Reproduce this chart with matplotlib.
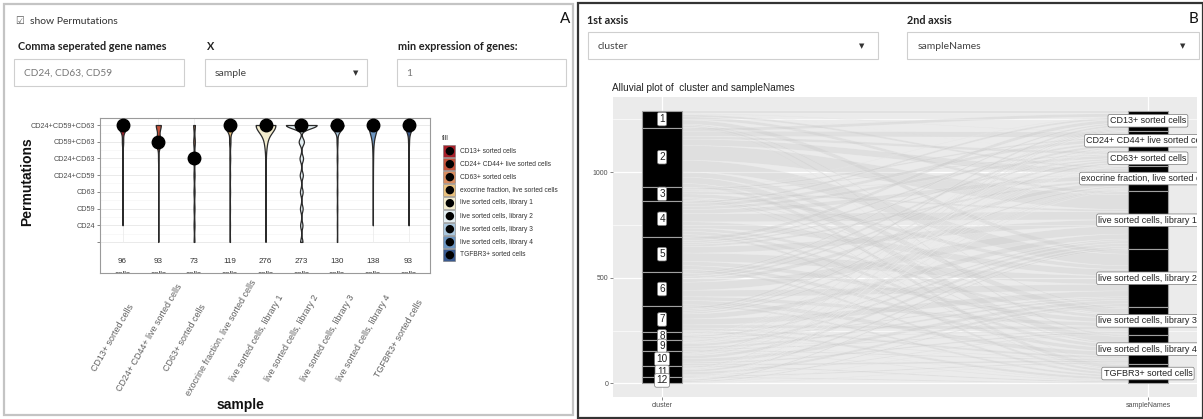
import numpy as np
import matplotlib
matplotlib.use('Agg')
import matplotlib.pyplot as plt
from matplotlib.patches import Rectangle

W, H = 1203, 419

# ---------- panel A data ----------
samples = ['CD13+ sorted cells', 'CD24+ CD44+ live sorted cells', 'CD63+ sorted cells',
           'exocrine fraction, live sorted cells', 'live sorted cells, library 1',
           'live sorted cells, library 2', 'live sorted cells, library 3',
           'live sorted cells, library 4', 'TGFBR3+ sorted cells']
perms = ['', 'CD24', 'CD59', 'CD63', 'CD24+CD59', 'CD24+CD63', 'CD59+CD63', 'CD24+CD59+CD63']
# cells per permutation, one row per sample (columns follow perms)
perm_counts = [
    [0, 1, 1, 2, 2, 3, 10, 77],
    [1, 1, 2, 2, 2, 4, 42, 39],
    [6, 7, 7, 8, 8, 12, 12, 13],
    [3, 3, 3, 4, 4, 6, 10, 86],
    [2, 2, 3, 3, 4, 6, 28, 228],
    [12, 12, 14, 14, 16, 18, 27, 160],
    [3, 3, 4, 4, 4, 5, 7, 100],
    [0, 2, 2, 2, 3, 6, 13, 110],
    [0, 2, 2, 2, 3, 4, 8, 72],
]
sample_colors = ['#a8202a', '#c4523a', '#d98c5f', '#e8c07d', '#f3eccd',
                 '#e3eef2', '#a9c6dd', '#6b95c1', '#3a5a8f']
bandwidths = [0.3, 0.3, 0.3, 0.3, 0.45, 0.2, 0.3, 0.5, 0.35]

# ---------- panel B data ----------
clusters = ['1', '2', '3', '4', '5', '6', '7', '8', '9', '10', '11', '12']
# cells per cluster (rows) and sample (columns, same order as samples)
cluster_sample = [
    [12, 3, 2, 10, 15, 20, 6, 8, 4],
    [15, 25, 13, 30, 70, 55, 25, 30, 18],
    [3, 8, 6, 4, 10, 18, 5, 7, 5],
    [10, 15, 14, 20, 38, 30, 15, 16, 12],
    [16, 10, 8, 11, 30, 40, 20, 18, 12],
    [8, 12, 10, 18, 38, 31, 18, 20, 10],
    [10, 6, 9, 8, 24, 28, 15, 11, 12],
    [4, 2, 3, 3, 8, 7, 4, 4, 3],
    [5, 3, 2, 4, 12, 10, 6, 6, 4],
    [6, 4, 3, 5, 14, 16, 8, 9, 6],
    [5, 3, 2, 4, 10, 12, 5, 6, 5],
    [2, 2, 1, 2, 7, 6, 3, 3, 2],
]

ui = 'Lato'
gg = 'Liberation Sans'


def fx(x):
    return x / W


def fy(y):
    return 1 - y / H


def box(x0, y0, x1, y1, **kw):
    fig.add_artist(Rectangle((fx(x0), fy(y1)), (x1 - x0) / W, (y1 - y0) / H,
                             transform=fig.transFigure, **kw))


def ftext(x, y, s, **kw):
    fig.text(fx(x), fy(y), s, **kw)


fig = plt.figure(figsize=(W / 100, H / 100), dpi=100)
fig.patch.set_facecolor('white')

# ---------- panel A frame and inputs ----------
box(4, 4, 573, 415, fill=False, ec='#c4c4c4', lw=1.6)
ftext(20, 21, '\u2611', family='DejaVu Sans', fontsize=7, color='#555', ha='center', va='center')
ftext(30, 21, 'show Permutations', family=ui, fontsize=7.5, color='#333', va='center')
ftext(565, 19, 'A', family=ui, fontsize=11, color='#111', ha='center', va='center')
ftext(18, 46, 'Comma seperated gene names', family=ui, fontsize=7.8, weight='bold', color='#222', va='center')
ftext(207, 46, 'X', family=ui, fontsize=7.8, weight='bold', color='#222', va='center')
ftext(398, 46, 'min expression of genes:', family=ui, fontsize=7.8, weight='bold', color='#222', va='center')
for x0, x1 in [(14, 184), (205, 367), (397, 566)]:
    box(x0, 59, x1, 86, fc='white', ec='#cfcfcf', lw=0.8)
ftext(24, 73, 'CD24, CD63, CD59', family=ui, fontsize=7.3, color='#777', va='center')
ftext(215, 73, 'sample', family=ui, fontsize=7.5, color='#444', va='center')
ftext(356, 73, '\u25BC', family='DejaVu Sans', fontsize=5, color='#333', ha='center', va='center')
ftext(406, 73, '1', family=ui, fontsize=7.5, color='#777', va='center')

# ---------- panel A violin plot ----------
ax = fig.add_axes([fx(100), fy(273), (430 - 100) / W, (273 - 118) / H])
levels = np.arange(len(perms))
ax.set_xlim(-0.63, 8.6)
ax.set_ylim(-1.86, 7.42)
for lv in levels:
    ax.axhline(lv, color='#e6e6e6', lw=0.6, zorder=0)
for lv in levels[:-1]:
    ax.axhline(lv + 0.5, color='#f3f3f3', lw=0.4, zorder=0)
for i in range(len(samples)):
    ax.plot([i, i], [0, 7.42], color='#ececec', lw=0.6, zorder=0)

curves = []
for i, row in enumerate(perm_counts):
    vals = np.repeat(levels, row)
    grid = np.linspace(vals.min(), vals.max(), 400)
    bw = bandwidths[i]
    d = np.exp(-0.5 * ((grid[:, None] - vals[None, :]) / bw) ** 2).sum(1) / (bw * np.sqrt(2 * np.pi))
    curves.append((grid, d))
scale = 0.43 / max(d.max() for g, d in curves)
for i, (g, d) in enumerate(curves):
    w = d * scale
    ax.fill_betweenx(g, i - w, i + w, facecolor=sample_colors[i], edgecolor='#2a2a2a', lw=0.9, zorder=2)
    med = np.median(np.repeat(levels, perm_counts[i]))
    ax.plot(i, med, 'o', color='black', ms=9, zorder=3)
    n = sum(perm_counts[i])
    ax.text(i, -1.2, str(n), family=gg, fontsize=5.8, color='#333', ha='center', va='center')
    ax.text(i, -1.95, 'cells', family=gg, fontsize=5.8, color='#333', ha='center', va='center',
            clip_on=True)

ax.set_yticks(levels)
ax.set_yticklabels(perms, family=gg, fontsize=5.2, color='#4d4d4d')
ax.set_xticks([])
ax.tick_params(axis='y', length=2, width=0.5, color='#555', pad=1.5)
for sp in ax.spines.values():
    sp.set_color('#9a9a9a')
    sp.set_linewidth(0.8)

for i, s in enumerate(samples):
    ax.text(i - 0.26, -0.42, s, transform=ax.get_xaxis_transform(), family=gg, fontsize=6.4,
            color='#606060', rotation=60, ha='center', va='center', rotation_mode='anchor',
            clip_on=False)

ftext(27, 182, 'Permutations', family=gg, fontsize=10, weight='bold', color='#111',
      rotation=90, ha='center', va='center')
ftext(240, 405, 'sample', family=gg, fontsize=10, weight='bold', color='#111', ha='center', va='center')

# legend
ftext(442, 138, 'fill', family=gg, fontsize=5, color='#333', va='center')
for k, s in enumerate(samples):
    yc = 151 + 13 * k
    box(443, yc - 6, 455, yc + 6, fc=sample_colors[k], ec='#777', lw=0.4)
    ftext(449, yc, '\u25CF', family='DejaVu Sans', fontsize=8, color='black', ha='center', va='center')
    ftext(460, yc, s, family=gg, fontsize=4.8, color='#333', va='center')

# ---------- panel B frame and inputs ----------
box(578, 3, 1203, 418, fill=False, ec='#333', lw=1.6)
ftext(587, 20, '1st axsis', family=ui, fontsize=7.8, weight='bold', color='#222', va='center')
ftext(907, 20, '2nd axsis', family=ui, fontsize=7.8, weight='bold', color='#222', va='center')
ftext(1193, 19, 'B', family=ui, fontsize=11, color='#111', ha='center', va='center')
for x0, x1 in [(588, 878), (907, 1199)]:
    box(x0, 32, x1, 59, fc='white', ec='#cfcfcf', lw=0.8)
ftext(598, 46, 'cluster', family=ui, fontsize=7.5, color='#444', va='center')
ftext(918, 46, 'sampleNames', family=ui, fontsize=7.5, color='#444', va='center')
ftext(862, 46, '\u25BC', family='DejaVu Sans', fontsize=5, color='#333', ha='center', va='center')
ftext(1183, 46, '\u25BC', family='DejaVu Sans', fontsize=5, color='#333', ha='center', va='center')
ftext(612, 88, 'Alluvial plot of  cluster and sampleNames', family=gg, fontsize=7.2, color='#222', va='center')

# ---------- panel B alluvial plot ----------
ax2 = fig.add_axes([fx(613), fy(397), (1197 - 613) / W, (397 - 97) / H])
ax2.set_facecolor('#ebebeb')
m = np.array(cluster_sample)
N = m.sum()
ax2.set_xlim(0.899, 2.101)
ax2.set_ylim(-0.05 * N, 1.05 * N)
for yv in [0, 500, 1000]:
    ax2.axhline(yv, color='white', lw=0.9, zorder=0)
for yv in [250, 750, 1250]:
    ax2.axhline(yv, color='white', lw=0.45, zorder=0)
for xv in [1, 2]:
    ax2.axvline(xv, color='white', lw=0.9, zorder=0)

hw = 0.041
row_tot = m.sum(1)
col_tot = m.sum(0)
row_top = N - np.concatenate([[0], np.cumsum(row_tot)[:-1]])
col_top = N - np.concatenate([[0], np.cumsum(col_tot)[:-1]])
xs = np.linspace(1 + hw, 2 - hw, 60)
s = (1 - np.cos(np.pi * (xs - xs[0]) / (xs[-1] - xs[0]))) / 2
col_cur = col_top.astype(float).copy()
for i in range(m.shape[0]):
    cur = row_top[i]
    for j in range(m.shape[1]):
        c = m[i, j]
        if c == 0:
            continue
        a_top, a_bot = cur, cur - c
        b_top, b_bot = col_cur[j], col_cur[j] - c
        top = a_top + (b_top - a_top) * s
        bot = a_bot + (b_bot - a_bot) * s
        ax2.fill_between(xs, bot, top, facecolor='#cacaca', alpha=0.35, edgecolor='#f7f7f7',
                         lw=0.35, zorder=1)
        cur -= c
        col_cur[j] -= c

for i, lab in enumerate(clusters):
    ax2.add_patch(Rectangle((1 - hw, row_top[i] - row_tot[i]), 2 * hw, row_tot[i],
                            fc='black', ec='#a0a0a0', lw=0.8, zorder=3))
    ax2.text(1, row_top[i] - row_tot[i] / 2, lab, family=gg, fontsize=7.2, color='#222',
             ha='center', va='center', zorder=4,
             bbox=dict(boxstyle='round,pad=0.18', fc='white', ec='#777', lw=0.5))
for j, lab in enumerate(samples):
    ax2.add_patch(Rectangle((2 - hw, col_top[j] - col_tot[j]), 2 * hw, col_tot[j],
                            fc='black', ec='#a0a0a0', lw=0.8, zorder=3))
    ax2.text(2, col_top[j] - col_tot[j] / 2, lab, family=gg, fontsize=6.5, color='#222',
             ha='center', va='center', zorder=4, clip_on=True,
             bbox=dict(boxstyle='round,pad=0.2', fc='white', ec='#777', lw=0.5))

ax2.set_yticks([0, 500, 1000])
ax2.set_yticklabels(['0', '500', '1000'], family=gg, fontsize=5, color='#4d4d4d')
ax2.set_xticks([1, 2])
ax2.set_xticklabels(['cluster', 'sampleNames'], family=gg, fontsize=5, color='#4d4d4d')
ax2.tick_params(length=2, width=0.5, color='#555', pad=1.5)
for sp in ax2.spines.values():
    sp.set_visible(False)

fig.savefig('out.png', dpi=100, facecolor='white')
